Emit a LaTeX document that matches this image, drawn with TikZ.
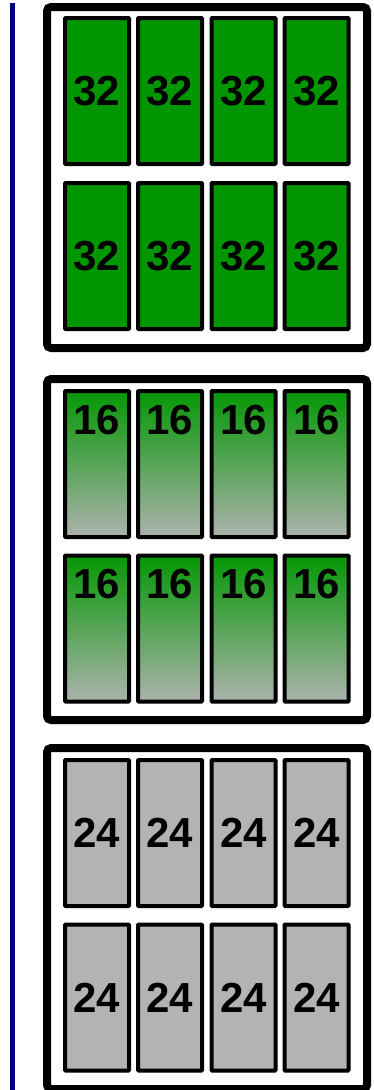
\documentclass[tikz,border=0pt]{standalone}
\usepackage{fontspec}
\setmainfont{Liberation Sans}
\usepackage{tikz}
\usetikzlibrary{positioning, calc}
\usepackage{xcolor}

\definecolor{railblue}{RGB}{0,0,128}
\definecolor{full}{RGB}{0,150,0}
\definecolor{halftop}{RGB}{5,152,5}
\definecolor{halfbot}{RGB}{172,178,172}
\definecolor{plain}{RGB}{179,179,179}

\begin{document}
\begin{tikzpicture}[x=1pt, y=-1pt,
  rack/.style={draw, line width=8pt, rounded corners=4pt, fill=white,
               minimum width=320pt, minimum height=341pt, inner sep=0pt},
  cell/.style={draw, line width=4pt, rounded corners=0.8pt, inner sep=0pt,
               minimum width=64pt, minimum height=146pt,
               font=\fontsize{42}{42}\selectfont\bfseries},
  c32/.style={cell, fill=full},
  c16/.style={cell, top color=halftop, bottom color=halfbot},
  c24/.style={cell, fill=plain},
  toplb/.style={label={[font=\fontsize{42}{42}\selectfont\bfseries,
                        anchor=center, yshift=-31pt, inner sep=0pt]north:#1}}]
  \useasboundingbox (0,0) rectangle (373,1090);
  % ---- the rail on the left
  \coordinate (railtop) at (12.5,3);
  \coordinate (railbot) at (12.5,1090);
  \draw[railblue, line width=4.5pt] (railtop) -- (railbot);
  % ---- first rack: full green cells
  \node[rack] (rackA) at (207,177.5) {};
  \foreach \c/\x in {1/97, 2/170, 3/243.5, 4/316.5} {
    \node[c32] (a\c) at (\x,91)  {32};
    \node[c32] (b\c) at (\x,256) {32};
  }
  % ---- second rack: cells fading from green to grey, number at the top
  \node[rack] (rackB) at (207,549.5) {};
  \foreach \c/\x in {1/97, 2/170, 3/243.5, 4/316.5} {
    \node[c16, toplb=16] (c\c) at (\x,464)   {};
    \node[c16, toplb=16] (d\c) at (\x,628.5) {};
  }
  % ---- third rack: grey cells, runs off the bottom edge
  \node[rack] (rackC) at (207,918.5) {};
  \foreach \c/\x in {1/97, 2/170, 3/243.5, 4/316.5} {
    \node[c24] (e\c) at (\x,833)   {24};
    \node[c24] (f\c) at (\x,997.5) {24};
  }
\end{tikzpicture}
\end{document}
